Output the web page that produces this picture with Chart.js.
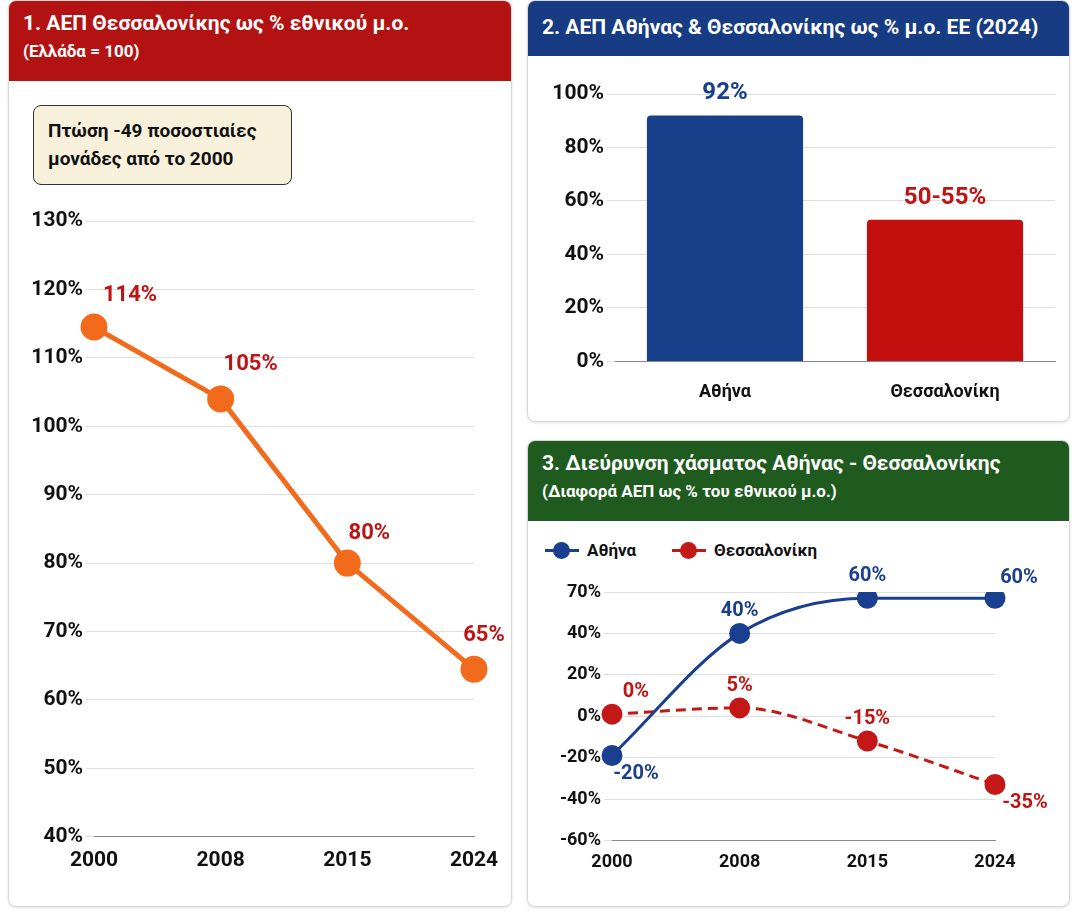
<!DOCTYPE html>
<html><head><meta charset="utf-8">
<script src="https://cdn.jsdelivr.net/npm/chart.js@4"></script>
<style>
body{margin:0;background:#fff;font-family:Roboto,"Liberation Sans",sans-serif;width:1074px;height:914px;position:relative;overflow:hidden}
.panel{position:absolute;border:1px solid #d8d8d8;border-radius:8px;overflow:hidden;background:#fff;box-shadow:0 1px 3px rgba(0,0,0,.12)}
.hdr{color:#fff;font-weight:bold;padding:10px 14px;box-sizing:border-box}
.hdr .t{font-size:21px}
.hdr .s{font-size:17px;margin-top:6px;font-weight:bold}
canvas{position:absolute}
.note{position:absolute;left:33px;top:105px;width:259px;height:80px;box-sizing:border-box;background:#f7f1dc;border:1.5px solid #333;border-radius:8px;font-weight:bold;font-size:19px;padding:11px 14px;line-height:28px;color:#111}
.leg{position:absolute;font-weight:bold;font-size:17px;color:#111;display:flex;align-items:center}
.leg i{display:inline-block;width:34px;height:3px;position:relative;margin-right:8px}
.leg i b{position:absolute;left:8px;top:-7px;width:17px;height:17px;border-radius:50%}
</style></head><body>
<div class="panel" style="left:8px;top:0;width:502px;height:905px">
  <div class="hdr" style="background:#b31212;height:80px"><div class="t">1. ΑΕΠ Θεσσαλονίκης ως % εθνικού μ.ο.</div><div class="s">(Ελλάδα = 100)</div></div>
</div>
<div class="note">Πτώση -49 ποσοστιαίες μονάδες από το 2000</div>
<div class="panel" style="left:527px;top:0;width:541px;height:420px">
  <div class="hdr" style="background:#173c84;height:55px;padding-top:14px"><div class="t">2. ΑΕΠ Αθήνας &amp; Θεσσαλονίκης ως % μ.ο. ΕΕ (2024)</div></div>
</div>
<div class="panel" style="left:527px;top:440px;width:541px;height:465px">
  <div class="hdr" style="background:#1f5a1f;height:80px"><div class="t">3. Διεύρυνση χάσματος Αθήνας - Θεσσαλονίκης</div><div class="s">(Διαφορά ΑΕΠ ως % του εθνικού μ.ο.)</div></div>
</div>
<div class="leg" style="left:545px;top:540px"><i style="background:#1b3f8f"><b style="background:#1b3f8f"></b></i>Αθήνα</div>
<div class="leg" style="left:672px;top:540px"><i style="background:#c41818"><b style="background:#c41818"></b></i>Θεσσαλονίκη</div>
<canvas id="c1" style="left:10px;top:205px;width:498px;height:675px"></canvas>
<canvas id="c2" style="left:530px;top:70px;width:535px;height:345px"></canvas>
<canvas id="c3" style="left:530px;top:558px;width:535px;height:322px"></canvas>
<script>
const years=['2000','2008','2015','2024'];
const thessNational=[114.5,104,80,64.5];
const thessNationalLabels=['114%','105%','80%','65%'];
const euCities=['Αθήνα','Θεσσαλονίκη'];
const euValues=[92,53];
const euLabels=['92%','50-55%'];
const gapAthens=[-19,40,57,57];
const gapAthensLabels=['-20%','40%','60%','60%'];
const gapThess=[1,4,-12,-33];
const gapThessLabels=['0%','5%','-15%','-35%'];

const FONT='Roboto, "Liberation Sans", sans-serif';
Chart.defaults.font.family=FONT;
Chart.defaults.font.weight='bold';
Chart.defaults.color='#111';

const labelPlugin={id:'lbl',afterDatasetsDraw(ch){
  const ctx=ch.ctx;
  ch.data.datasets.forEach((ds,i)=>{
    if(!ds.lbl)return;
    ch.getDatasetMeta(i).data.forEach((el,j)=>{
      const o=ds.lblOff[j];
      const col=Array.isArray(ds.lblColor)?ds.lblColor[j]:ds.lblColor;
      ctx.save();ctx.font='bold '+(ds.lblSize||22)+'px '+FONT;ctx.fillStyle=col;
      ctx.textAlign='center';ctx.textBaseline='middle';
      ctx.fillText(ds.lbl[j],el.x+o[0],el.y+o[1]);ctx.restore();
    });
  });
}};

const tickFont={size:21,weight:'bold'};
new Chart(document.getElementById('c1'),{type:'line',plugins:[labelPlugin],
data:{labels:years,datasets:[{data:thessNational,borderColor:'#f26a1b',backgroundColor:'#f26a1b',borderWidth:5,pointRadius:11,pointHoverRadius:11,tension:0,
 lbl:thessNationalLabels,lblColor:'#c01414',lblSize:22,lblOff:[[36,-32],[30,-34],[22,-30],[10,-34]]}]},
options:{responsive:false,animation:false,layout:{padding:{top:16,right:34,left:4,bottom:4}},plugins:{legend:{display:false},tooltip:{enabled:false}},
scales:{x:{offset:false,grid:{display:false},border:{color:'#888'},ticks:{font:tickFont,color:'#111'}},
y:{min:40,max:130,afterFit:s=>{s.width=80},ticks:{stepSize:10,font:tickFont,color:'#111',callback:v=>v+'%'},grid:{color:'#ddd'},border:{display:false}}}}});

new Chart(document.getElementById('c2'),{type:'bar',plugins:[labelPlugin],
data:{labels:euCities,datasets:[{data:euValues,backgroundColor:['#173f8a','#c40f0f'],barPercentage:0.71,categoryPercentage:1,borderRadius:{topLeft:4,topRight:4},
 lbl:euLabels,lblColor:['#173f8a','#c01414'],lblSize:24,lblOff:[[0,-22],[0,-22]]}]},
options:{responsive:false,animation:false,layout:{padding:{top:24,right:10,left:0}},plugins:{legend:{display:false},tooltip:{enabled:false}},
scales:{x:{grid:{display:false},border:{color:'#888'},ticks:{font:{size:18,weight:'bold'},color:'#111',padding:12}},
y:{min:0,max:100,afterFit:s=>{s.width=85},ticks:{stepSize:20,font:tickFont,color:'#111',callback:v=>v+'%'},grid:{color:'#ddd'},border:{display:false}}}}});

new Chart(document.getElementById('c3'),{type:'line',plugins:[labelPlugin],
data:{labels:years,datasets:[
 {data:gapAthens,borderColor:'#1b3f8f',backgroundColor:'#1b3f8f',borderWidth:3,pointRadius:9,tension:0.4,cubicInterpolationMode:'monotone',
  lbl:gapAthensLabels,lblColor:'#1b3f8f',lblSize:20,lblOff:[[24,18],[0,-22],[0,-22],[24,-20]]},
 {data:gapThess,borderColor:'#c41818',backgroundColor:'#c41818',borderWidth:3,borderDash:[10,6],pointRadius:9,tension:0.4,cubicInterpolationMode:'monotone',
  lbl:gapThessLabels,lblColor:'#c01414',lblSize:20,lblOff:[[24,-22],[0,-22],[0,-22],[30,18]]}]},
options:{responsive:false,animation:false,layout:{padding:{top:34,right:70,left:4,bottom:4}},plugins:{legend:{display:false},tooltip:{enabled:false}},
scales:{x:{offset:false,grid:{display:false},border:{color:'#888'},ticks:{font:{size:18,weight:'bold'},color:'#111'}},
y:{min:-60,max:60,afterFit:s=>{s.width=78},ticks:{stepSize:20,font:{size:18,weight:'bold'},color:'#111',callback:v=>(v===60?70:v)+'%'},grid:{color:'#ddd'},border:{display:false}}}}});
</script>
</body></html>
